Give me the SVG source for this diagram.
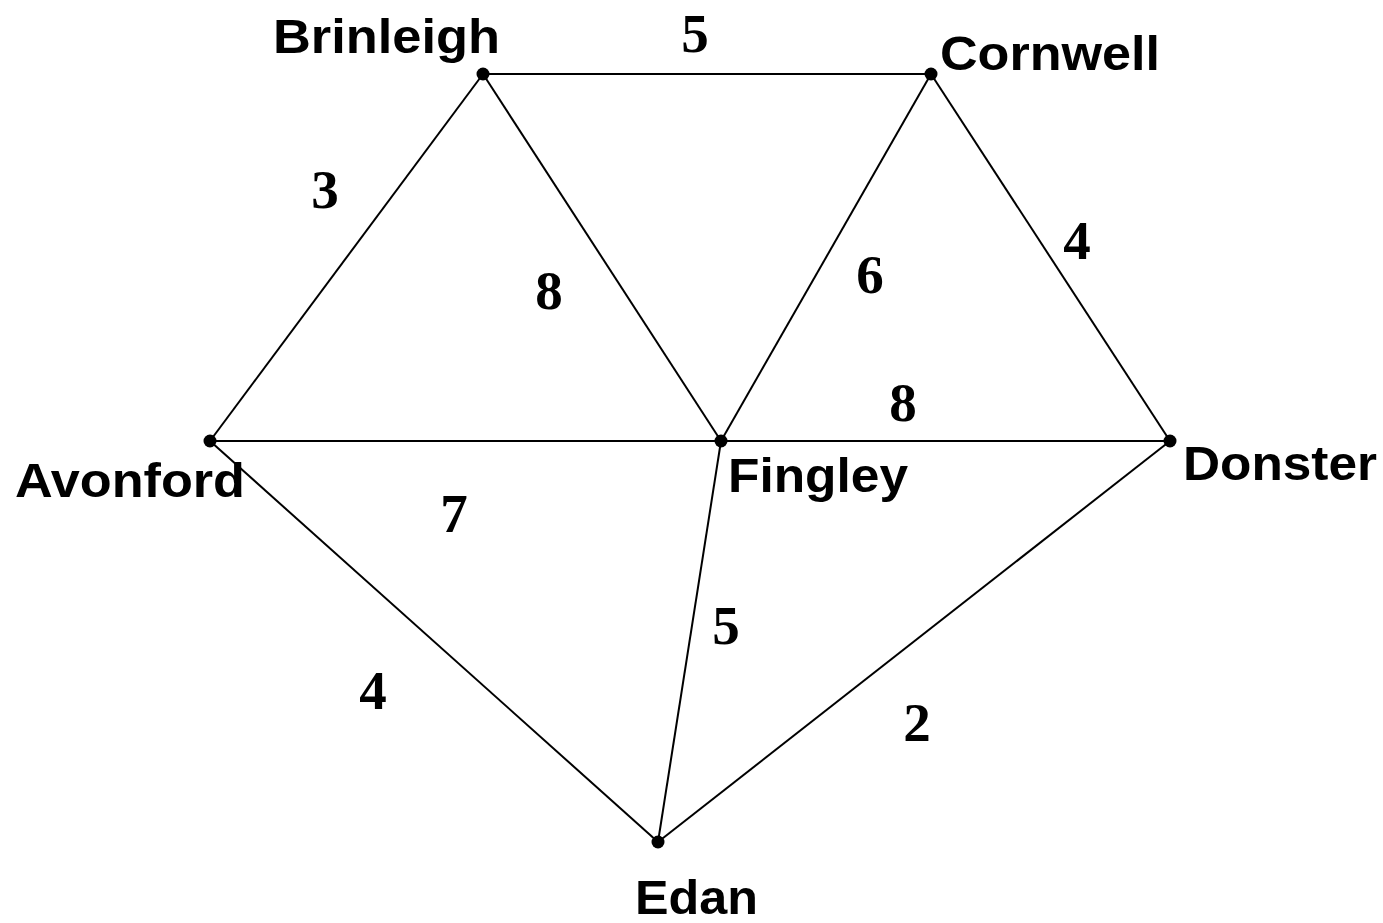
<svg xmlns="http://www.w3.org/2000/svg" width="1383" height="923" viewBox="0 0 1383 923">
<style>
.edge{stroke:#000;stroke-width:2;fill:none}
.dot{fill:#000}
.lbl{font-family:"Liberation Sans",Arial,sans-serif;font-weight:bold;font-size:49px;fill:#000}
.w{font-family:"Liberation Serif","Times New Roman",serif;font-weight:bold;font-size:55px;fill:#000;text-anchor:middle}
</style>
<rect width="1383" height="923" fill="#fff"/>
<g id="connectors">
<line class="edge" x1="483" y1="74" x2="931" y2="74"/>
<line class="edge" x1="483" y1="74" x2="210" y2="441"/>
<line class="edge" x1="483" y1="74" x2="721" y2="441"/>
<line class="edge" x1="931" y1="74" x2="721" y2="441"/>
<line class="edge" x1="931" y1="74" x2="1170" y2="441"/>
<line class="edge" x1="210" y1="441" x2="1170" y2="441"/>
<line class="edge" x1="210" y1="441" x2="658" y2="842"/>
<line class="edge" x1="721" y1="441" x2="658" y2="842"/>
<line class="edge" x1="1170" y1="441" x2="658" y2="842"/>
<text class="w" x="695" y="52">5</text>
<text class="w" x="325" y="208">3</text>
<text class="w" x="549" y="309">8</text>
<text class="w" x="870" y="293">6</text>
<text class="w" x="1077" y="259">4</text>
<text class="w" x="903" y="421">8</text>
<text class="w" x="454" y="532">7</text>
<text class="w" x="373" y="709">4</text>
<text class="w" x="726" y="644">5</text>
<text class="w" x="917" y="741">2</text>
</g>
<g id="brinleigh"><circle class="dot" cx="483" cy="74" r="6.5"/><text class="lbl" x="273" y="53" textLength="227" lengthAdjust="spacingAndGlyphs">Brinleigh</text></g>
<g id="cornwell"><circle class="dot" cx="931" cy="74" r="6.5"/><text class="lbl" x="940" y="70" textLength="220" lengthAdjust="spacingAndGlyphs">Cornwell</text></g>
<g id="avonford"><circle class="dot" cx="210" cy="441" r="6.5"/><text class="lbl" x="15" y="497" textLength="230" lengthAdjust="spacingAndGlyphs">Avonford</text></g>
<g id="fingley"><circle class="dot" cx="721" cy="441" r="6.5"/><text class="lbl" x="728" y="492" textLength="180" lengthAdjust="spacingAndGlyphs">Fingley</text></g>
<g id="donster"><circle class="dot" cx="1170" cy="441" r="6.5"/><text class="lbl" x="1183" y="480" textLength="194" lengthAdjust="spacingAndGlyphs">Donster</text></g>
<g id="edan"><circle class="dot" cx="658" cy="842" r="6.5"/><text class="lbl" x="635" y="914" textLength="123" lengthAdjust="spacingAndGlyphs">Edan</text></g>
</svg>
